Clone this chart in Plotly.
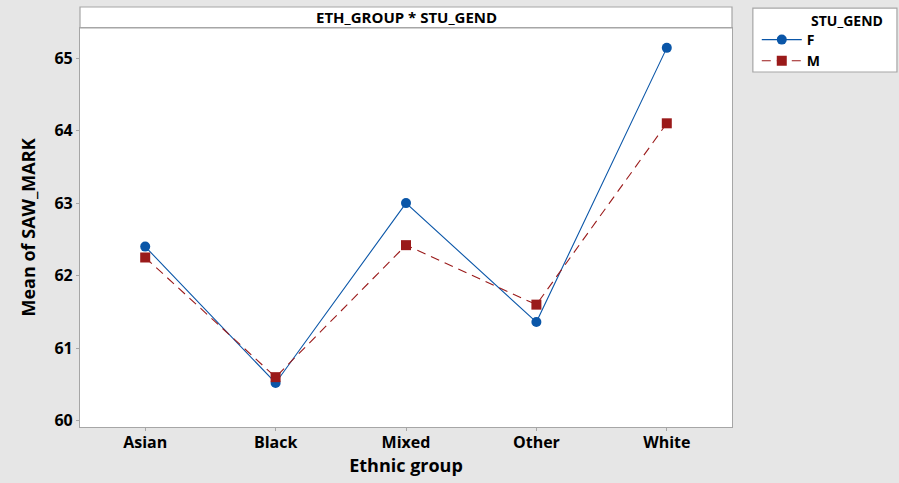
import plotly.graph_objects as go

groups = ["Asian", "Black", "Mixed", "Other", "White"]
mean_f = [62.40, 60.52, 63.00, 61.36, 65.14]
mean_m = [62.25, 60.60, 62.42, 61.60, 64.10]
y_ticks = [60, 61, 62, 63, 64, 65]

FONT = "Open Sans, Noto Sans, sans-serif"
BLUE = "#0a56a8"
RED = "#9a1a1a"
GRID = "#a6a6a6"
BG = "#e6e6e6"

fig = go.Figure()
fig.add_trace(go.Scatter(
    x=groups, y=mean_f, name="<b>F</b>", mode="lines+markers",
    line=dict(color=BLUE, width=1.1),
    marker=dict(symbol="circle", size=10, color=BLUE),
))
fig.add_trace(go.Scatter(
    x=groups, y=mean_m, name="<b>M</b>", mode="lines+markers",
    line=dict(color=RED, width=1.1, dash="9px,6px"),
    marker=dict(symbol="square", size=10, color=RED),
))

# title bar above the plot area and legend box
fig.add_shape(type="rect", xref="paper", yref="paper",
              x0=0, x1=1, y0=1, y1=1 + 21 / 399,
              line=dict(color=GRID, width=1.2), fillcolor="white", layer="below")
fig.add_shape(type="rect", xref="paper", yref="paper",
              x0=1.032, x1=1.253, y0=0.8897, y1=1.050,
              line=dict(color=GRID, width=1.2), fillcolor="white", layer="below")
fig.add_annotation(text="<b>ETH_GROUP * STU_GEND</b>", xref="paper", yref="paper",
                   x=0.5, y=1 + 10.5 / 399, yanchor="middle", showarrow=False,
                   font=dict(size=15, color="black", family=FONT))
fig.add_annotation(text="<b>STU_GEND</b>", xref="paper", yref="paper",
                   x=(809 - 80) / 652, y=(427 - 21) / 399, xanchor="left",
                   yanchor="middle", showarrow=False,
                   font=dict(size=14, color="black", family=FONT))

fig.update_layout(
    width=899, height=483,
    margin=dict(l=80, r=167, t=28, b=56, autoexpand=False),
    paper_bgcolor=BG,
    plot_bgcolor="white",
    font=dict(family=FONT, color="black"),
    showlegend=True,
    legend=dict(
        x=1.038, y=(427 - 24) / 399, xanchor="left", yanchor="top",
        bgcolor="rgba(0,0,0,0)", borderwidth=0,
        font=dict(size=14, family=FONT),
        tracegroupgap=0, itemwidth=40,
    ),
)
fig.update_xaxes(
    range=[-0.5, 4.5], automargin=False,
    showline=True, mirror=True, linecolor=GRID, linewidth=1.2,
    ticks="outside", ticklen=3, tickcolor=GRID, showgrid=False,
    tickfont=dict(size=16, family=FONT, weight="bold"), ticklabelstandoff=-2,
    title=dict(text="<b>Ethnic group</b>", font=dict(size=18), standoff=6),
)
fig.update_yaxes(
    range=[59.913, 65.414], tickvals=y_ticks, automargin=False,
    showline=True, mirror=True, linecolor=GRID, linewidth=1.2,
    ticks="outside", ticklen=3, tickcolor=GRID, showgrid=False, zeroline=False,
    tickfont=dict(size=16, family=FONT, weight="bold"),
    title=dict(text="<b>Mean of SAW_MARK</b>", font=dict(size=18), standoff=14),
)

fig.write_html(
    "out.html",
    config={"displayModeBar": False},
    post_script=f"document.body.style.margin='0';document.body.style.background='{BG}';",
)
